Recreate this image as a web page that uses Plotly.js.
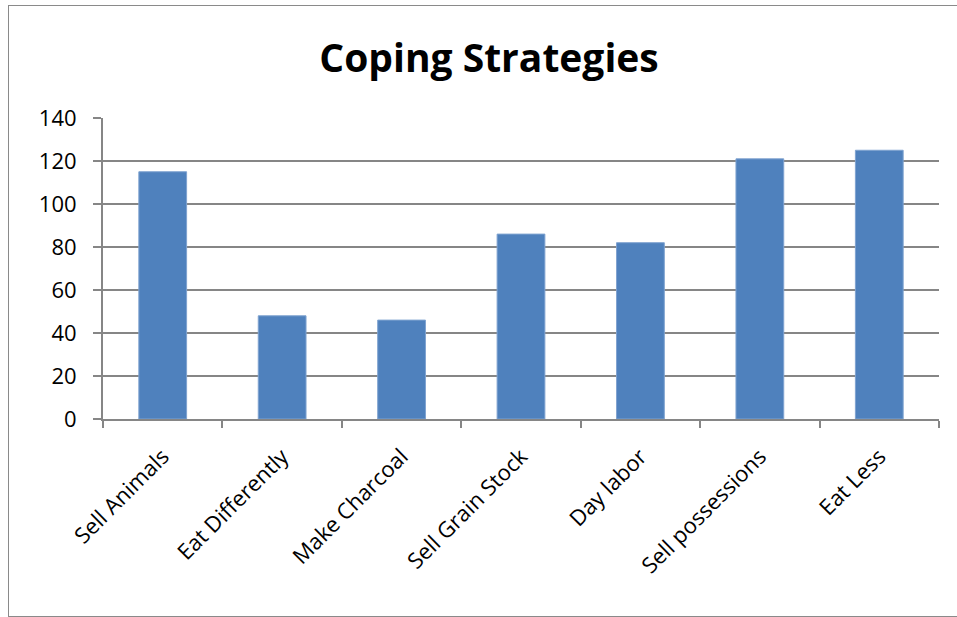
<!DOCTYPE html>
<html>
<head>
<meta charset="utf-8">
<script src="https://cdn.plot.ly/plotly-3.0.1.min.js"></script>
<style>
html,body{margin:0;padding:0;background:#fff;}
#wrap{position:relative;width:957px;height:617px;}
#chart{position:absolute;left:0;top:0;width:957px;height:617px;}
#frame{position:absolute;left:8px;top:5px;width:960px;height:610px;border:1.5px solid #8a8a8a;pointer-events:none;}
</style>
</head>
<body>
<div id="wrap">
<div id="chart"></div>
<div id="frame"></div>
</div>
<script>
var categories = ["Sell Animals", "Eat Differently", "Make Charcoal", "Sell Grain Stock", "Day labor", "Sell possessions", "Eat Less"];
var values = [115, 48, 46, 86, 82, 121, 125];
var yTickValues = [0, 20, 40, 60, 80, 100, 120, 140];
var chartTitle = "Coping Strategies";

var trace = {
  type: "bar",
  x: categories,
  y: values,
  width: 0.4,
  marker: {color: "#4F81BD", line: {color: "#7FA3D0", width: 1}},
  hoverinfo: "x+y"
};

var layout = {
  width: 957,
  height: 617,
  margin: {l: 103, r: 18, t: 118, b: 198, pad: 0},
  paper_bgcolor: "#ffffff",
  plot_bgcolor: "#ffffff",
  showlegend: false,
  font: {family: "Open Sans, Liberation Sans, sans-serif", color: "#000000"},
  title: {
    text: "<b>" + chartTitle + "</b>",
    font: {family: "Open Sans, sans-serif", size: 39, color: "#000000"},
    x: 0.511, xanchor: "center",
    y: 0.906, yanchor: "middle"
  },
  xaxis: {
    type: "category",
    showgrid: false,
    showline: true,
    linecolor: "#868686",
    linewidth: 2,
    ticks: "outside",
    tickson: "boundaries",
    ticklen: 7,
    tickwidth: 2,
    tickcolor: "#868686",
    tickangle: -45,
    ticklabelstandoff: 14,
    tickfont: {size: 22, family: "Open Sans, sans-serif", color: "#000"},
    fixedrange: true
  },
  yaxis: {
    range: [0, 140],
    tickvals: yTickValues,
    showgrid: true,
    gridcolor: "#868686",
    gridwidth: 2,
    showline: true,
    linecolor: "#868686",
    linewidth: 2,
    ticks: "outside",
    ticklen: 8,
    tickwidth: 2,
    tickcolor: "#868686",
    zeroline: false,
    ticklabelstandoff: 12,
    tickfont: {size: 22, family: "Open Sans, sans-serif", color: "#000"},
    fixedrange: true
  },
  bargap: 0.6
};

Plotly.newPlot("chart", [trace], layout, {displayModeBar: false, staticPlot: true});
</script>
</body>
</html>
